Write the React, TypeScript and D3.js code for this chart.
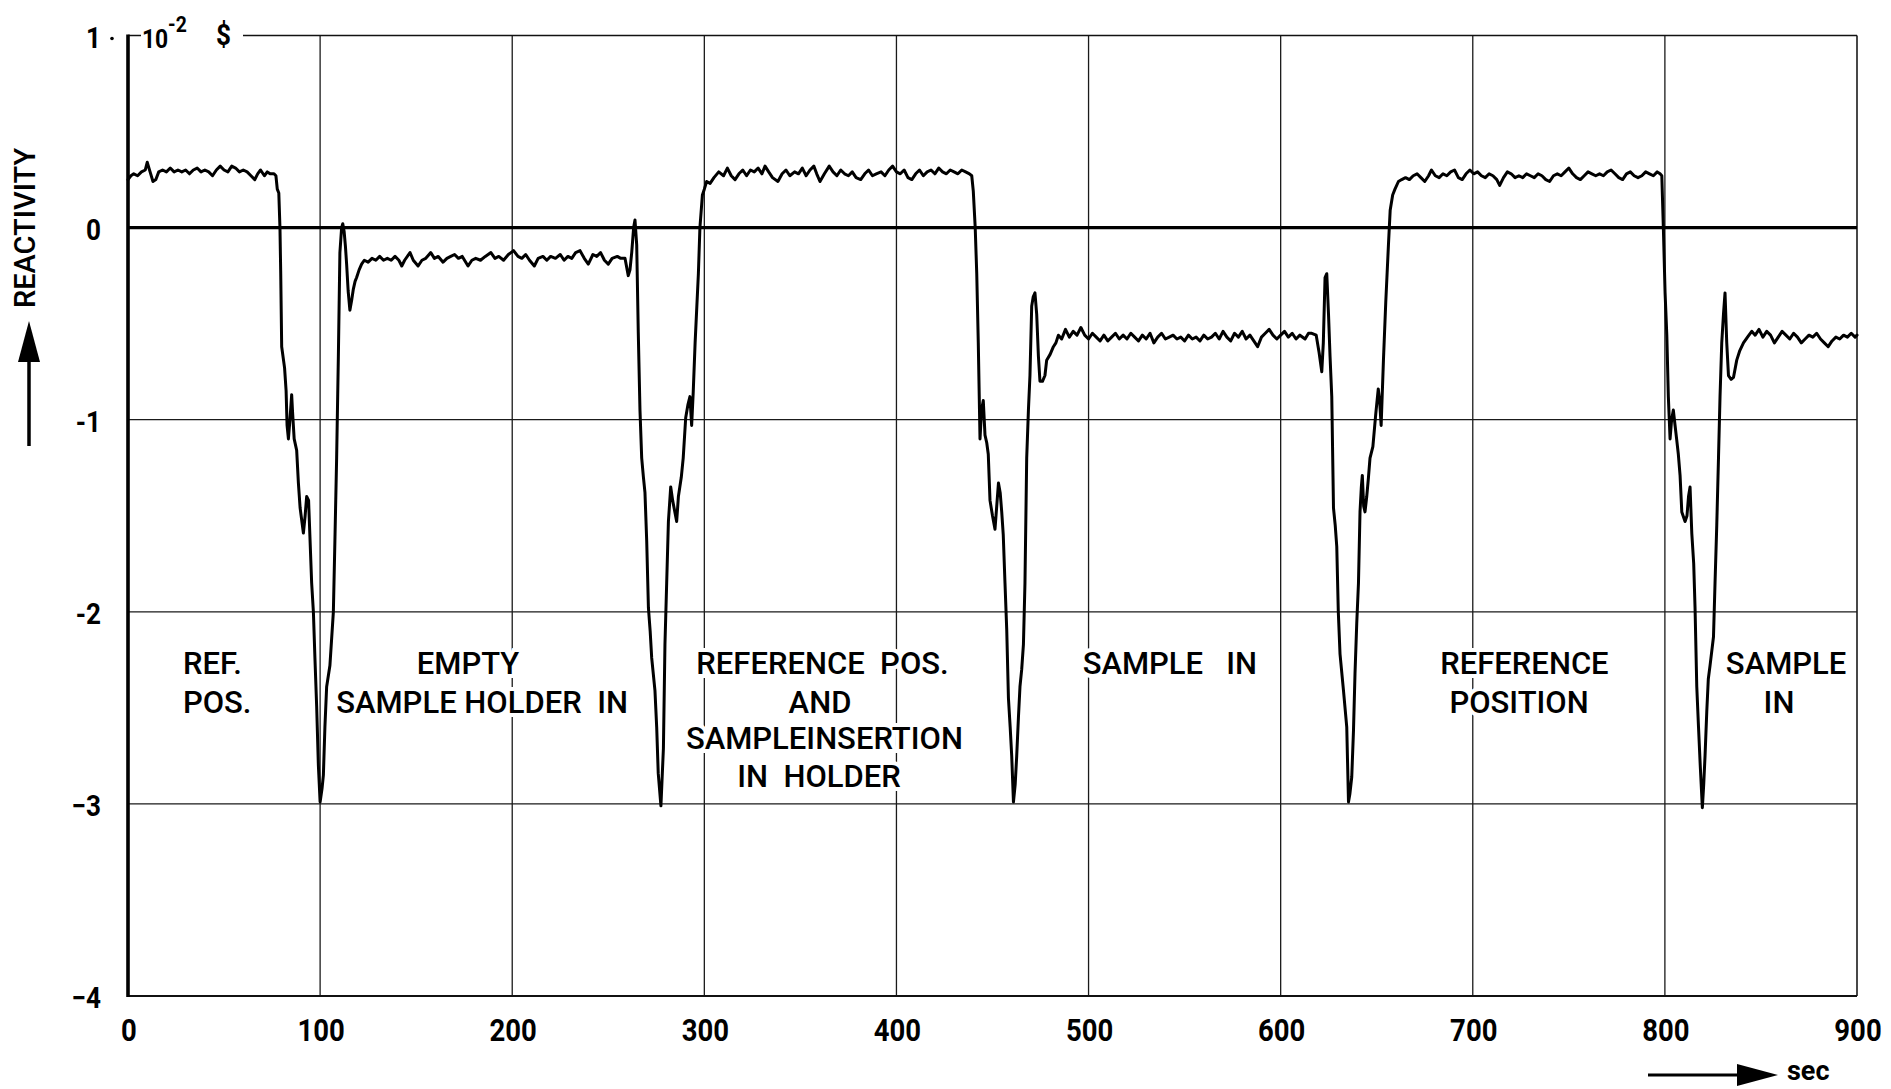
import React from 'react';
import * as d3 from 'd3';

type P = [number, number];

// ---- Data (time in sec, reactivity in 10^-2 $) ----
const refPos1: P[] = [
  [0, 0.25], [1.5, 0.27], [3, 0.28], [5, 0.27], [7, 0.29], [9, 0.3], [10, 0.34], [11.5, 0.29], [13, 0.24],
  [14.5, 0.25], [16, 0.29], [18, 0.3], [20, 0.29], [22, 0.31], [24, 0.29], [26, 0.3], [28, 0.29], [30, 0.3],
  [32, 0.28], [34, 0.3], [36, 0.31], [38, 0.29], [40, 0.3], [42, 0.29], [44, 0.27], [46, 0.3], [48, 0.32],
  [50, 0.3], [52, 0.29], [54, 0.32], [56, 0.31], [58, 0.29], [60, 0.3], [62, 0.29], [64, 0.27], [66, 0.25],
  [67.5, 0.28], [69, 0.3], [71, 0.27], [72.5, 0.29], [74, 0.28], [76, 0.28], [77, 0.27],
];
const transition1: P[] = [
  [77.7, 0.2], [78.5, 0.18], [79.1, 0.0], [79.5, -0.24], [80, -0.62], [81.5, -0.73], [82.3, -0.85], [82.8, -1.03],
  [83.5, -1.1], [84.3, -1.0], [85.2, -0.87], [85.6, -0.95], [86.5, -1.1], [87.8, -1.16], [88.7, -1.33], [89.6, -1.46],
  [91.3, -1.59], [92.2, -1.5], [93, -1.4], [94, -1.42], [94.7, -1.61], [95.6, -1.85], [96.5, -2.0], [97.3, -2.24],
  [98.2, -2.49], [99.1, -2.8], [100, -2.99], [101, -2.92], [101.7, -2.85], [102.5, -2.6], [103.4, -2.39],
  [105.1, -2.28], [106.9, -2.0], [107.7, -1.63], [108.6, -1.2], [109.5, -0.67], [110.3, -0.13], [111.2, 0.0],
  [111.8, 0.02], [112.5, -0.02], [113.2, -0.1], [113.8, -0.19], [114.6, -0.33], [115.5, -0.43], [116.4, -0.38],
  [117.3, -0.32], [118.2, -0.28], [119, -0.26], [120.3, -0.22], [121.6, -0.19],
];
const emptyHolder: P[] = [
  [123, -0.17], [125, -0.18], [127, -0.16], [129, -0.17], [131, -0.15], [133, -0.17], [135, -0.16], [137, -0.17],
  [139, -0.15], [141, -0.17], [142.5, -0.2], [144, -0.17], [146.8, -0.13], [148.5, -0.17], [151, -0.2], [153, -0.17],
  [155, -0.16], [157.6, -0.13], [159.5, -0.16], [161.5, -0.15], [164, -0.18], [166, -0.16], [168, -0.15], [170, -0.14],
  [172, -0.16], [174, -0.15], [177, -0.2], [179, -0.17], [181, -0.16], [183.5, -0.17], [186, -0.15], [188.9, -0.13],
  [191, -0.16], [193, -0.15], [195.5, -0.17], [198, -0.14], [200.7, -0.12], [203, -0.15], [205, -0.16], [207, -0.14],
  [209, -0.17], [211.5, -0.2], [213.5, -0.16], [216, -0.15], [218, -0.17], [220, -0.15], [222.5, -0.16], [225, -0.14],
  [227, -0.17], [229, -0.15], [231, -0.16], [233, -0.13], [235.3, -0.12], [237.5, -0.16], [239.6, -0.19], [242, -0.14],
  [244, -0.15], [246, -0.13], [248, -0.17], [250, -0.19], [252, -0.16], [254.7, -0.15], [256.5, -0.16], [258.7, -0.16],
];
const transition2: P[] = [
  [260.4, -0.25], [261.3, -0.22], [262.2, -0.13], [263.2, 0.0], [263.9, 0.04], [264.8, -0.09], [265.6, -0.54],
  [266.5, -0.95], [267.4, -1.2], [268.3, -1.3], [269.1, -1.38], [270, -1.63], [270.9, -1.98], [271.8, -2.1],
  [272.6, -2.24], [274.3, -2.41], [275.2, -2.6], [276, -2.84], [277.4, -3.01], [278.7, -2.71], [279.5, -2.17],
  [280.4, -1.85], [281.3, -1.53], [282.5, -1.35], [283.5, -1.42], [285.6, -1.53], [286.5, -1.4], [288, -1.3],
  [289, -1.2], [290.3, -0.99], [291.5, -0.92], [292.5, -0.88], [293.4, -1.03], [294.2, -0.86], [295.2, -0.6],
  [296.9, -0.24], [297.7, 0.0], [299, 0.17], [300, 0.2], [301.2, 0.24],
];
const refPos2: P[] = [
  [303, 0.23], [305, 0.26], [307.5, 0.29], [310, 0.27], [312, 0.31], [314, 0.27], [316, 0.25], [318, 0.28],
  [320, 0.3], [322, 0.27], [324, 0.3], [326, 0.29], [328, 0.31], [330, 0.28], [331.6, 0.32], [333.5, 0.29],
  [335.5, 0.26], [338.3, 0.24], [340.5, 0.28], [342.5, 0.3], [344.5, 0.27], [347, 0.29], [349, 0.28], [351, 0.31],
  [353, 0.27], [355, 0.3], [357, 0.32], [358.5, 0.28], [360.2, 0.24], [362.5, 0.28], [365, 0.32], [367, 0.29],
  [369, 0.27], [371, 0.3], [373, 0.28], [375, 0.27], [377, 0.29], [379, 0.26], [381.4, 0.25], [383.5, 0.28],
  [385.5, 0.3], [387.5, 0.27], [389.5, 0.28], [392, 0.29], [394, 0.27], [396, 0.3], [398, 0.32], [400, 0.29],
  [402, 0.28], [404, 0.3], [406, 0.26], [408, 0.25], [410, 0.28], [412, 0.3], [414, 0.27], [416, 0.29], [418, 0.3],
  [420, 0.28], [422, 0.31], [424, 0.29], [426, 0.28], [428, 0.3], [430, 0.29], [432, 0.28], [434, 0.3], [436, 0.29],
  [438, 0.28], [439.2, 0.27],
];
const transition3: P[] = [
  [440, 0.19], [441, 0.0], [441.8, -0.24], [442.6, -0.6], [443.5, -1.1], [444.3, -0.95], [445.2, -0.9],
  [446.1, -1.08], [447, -1.12], [447.8, -1.18], [448.7, -1.42], [450, -1.5], [451.3, -1.57], [452.2, -1.45],
  [453.1, -1.33], [454, -1.38], [454.8, -1.48], [455.6, -1.6], [456.5, -1.85], [457.4, -2.09], [458.3, -2.45],
  [459.2, -2.6], [460, -2.75], [460.9, -2.99], [461.8, -2.9], [462.6, -2.75], [463.5, -2.55], [464.3, -2.39],
  [465.2, -2.3], [466.1, -2.17], [466.9, -1.85], [467.8, -1.2], [468.7, -0.95], [469.5, -0.77], [470.4, -0.41],
  [471.2, -0.36], [472.1, -0.34], [473, -0.45], [473.9, -0.67], [474.7, -0.8], [476, -0.8], [477.3, -0.77],
  [478.2, -0.69], [480, -0.66], [481.7, -0.62], [483, -0.6], [484.3, -0.56], [486, -0.58],
];
const sampleIn1: P[] = [
  [488, -0.53], [490, -0.57], [492, -0.54], [494, -0.56], [496, -0.52], [498, -0.56], [500, -0.58], [502, -0.55],
  [504, -0.57], [506, -0.59], [508, -0.56], [510, -0.59], [512, -0.57], [514, -0.55], [516, -0.58], [518, -0.56],
  [520, -0.58], [522, -0.55], [524, -0.57], [526, -0.59], [528, -0.56], [530, -0.58], [532, -0.55], [534, -0.6],
  [536, -0.57], [538, -0.55], [540, -0.58], [542, -0.57], [544, -0.56], [546, -0.58], [548, -0.57], [550, -0.59],
  [552, -0.56], [554, -0.58], [556, -0.57], [558, -0.59], [560, -0.56], [562, -0.58], [564, -0.57], [566, -0.55],
  [568, -0.58], [570, -0.54], [572, -0.57], [574, -0.59], [576, -0.55], [578, -0.57], [580, -0.54], [582, -0.58],
  [584, -0.56], [586, -0.59], [588, -0.62], [590, -0.57], [592, -0.55], [594, -0.53], [596, -0.56], [598, -0.58],
  [600, -0.56], [602, -0.54], [604, -0.57], [606, -0.55], [608, -0.58], [610, -0.56], [612.7, -0.58], [614.5, -0.55],
  [616.2, -0.55], [618.5, -0.56],
];
const transition4: P[] = [
  [620, -0.65], [621.4, -0.75], [622.2, -0.6], [623.1, -0.26], [624, -0.24], [624.9, -0.45], [625.7, -0.67],
  [626.6, -0.88], [627.5, -1.46], [628.4, -1.55], [629.2, -1.66], [630, -2.0], [630.9, -2.22], [632.7, -2.41],
  [634.4, -2.6], [635.3, -2.99], [636, -2.95], [637, -2.86], [637.9, -2.62], [638.7, -2.32], [639.6, -2.06],
  [640.5, -1.85], [641.3, -1.48], [642, -1.35], [642.5, -1.29], [643.2, -1.45], [643.9, -1.48], [644.8, -1.4],
  [645.7, -1.3], [646.5, -1.2], [648, -1.14], [649.5, -0.97], [650.8, -0.84], [651.5, -0.9], [652.3, -1.03],
  [653.5, -0.69], [654.7, -0.39], [656.1, -0.09], [657, 0.09], [658.3, 0.17], [659.5, 0.2], [661.3, 0.24],
];
const refPos3: P[] = [
  [663, 0.25], [665, 0.26], [667, 0.25], [669, 0.27], [671, 0.28], [673, 0.26], [675, 0.24], [677, 0.27],
  [678.5, 0.3], [680.5, 0.27], [682.5, 0.26], [684.5, 0.28], [686.5, 0.27], [688.5, 0.29], [690.5, 0.3],
  [692.5, 0.26], [694.5, 0.25], [696.5, 0.28], [698.5, 0.3], [700.5, 0.28], [702.5, 0.29], [704.5, 0.27],
  [706.5, 0.26], [708.5, 0.28], [710.5, 0.27], [712.5, 0.25], [714, 0.22], [716, 0.26], [718, 0.29], [720, 0.28],
  [722, 0.26], [724, 0.27], [726, 0.26], [728, 0.28], [730, 0.27], [732, 0.26], [734, 0.28], [736, 0.27],
  [738, 0.25], [740, 0.24], [742, 0.27], [744, 0.28], [746, 0.27], [748, 0.29], [750, 0.31], [752, 0.28],
  [754, 0.26], [756, 0.25], [758, 0.27], [760, 0.29], [762, 0.28], [764, 0.27], [766, 0.28], [768, 0.27],
  [770, 0.29], [772, 0.3], [774, 0.28], [776, 0.26], [778, 0.25], [780, 0.28], [782, 0.29], [784, 0.27],
  [786, 0.26], [788, 0.27], [790, 0.29], [792, 0.28], [794, 0.27], [796, 0.29], [797.5, 0.28], [798.4, 0.27],
];
const transition5: P[] = [
  [799.2, 0.0], [800.1, -0.34], [801, -0.56], [801.8, -0.88], [802.7, -1.1], [803.5, -1.0], [804.4, -0.95],
  [805.3, -1.03], [806.1, -1.1], [807, -1.18], [807.9, -1.29], [808.8, -1.48], [810.5, -1.53], [811.5, -1.5],
  [812.3, -1.4], [813.1, -1.35], [814, -1.59], [815, -1.75], [815.7, -1.98], [816.6, -2.39], [817.5, -2.6],
  [818.4, -2.8], [819.5, -3.02], [820.2, -2.9], [820.9, -2.75], [821.8, -2.52], [822.6, -2.35], [823.5, -2.28],
  [825.3, -2.13], [826.1, -1.85], [827, -1.55], [827.9, -1.2], [828.7, -0.88], [829.6, -0.6], [830.5, -0.45],
  [831.3, -0.34], [832.2, -0.6], [833.1, -0.77], [834.5, -0.79], [835.7, -0.78], [837.4, -0.69], [839, -0.64],
  [840.9, -0.6], [843, -0.57], [845.2, -0.54],
];
const sampleIn2: P[] = [
  [847, -0.56], [849, -0.53], [851, -0.57], [853, -0.54], [855, -0.56], [857, -0.6], [859, -0.57], [861, -0.54],
  [863, -0.56], [865, -0.58], [867, -0.55], [869, -0.57], [871, -0.6], [873, -0.58], [875, -0.56], [877, -0.57],
  [879, -0.55], [881, -0.58], [883, -0.6], [885, -0.62], [887, -0.59], [889, -0.57], [891, -0.58], [893, -0.56],
  [895, -0.57], [897, -0.55], [899, -0.57], [900, -0.56],
];

const xTicks = [0, 100, 200, 300, 400, 500, 600, 700, 800, 900];
const yTicks = [1, 0, -1, -2, -3, -4];
const yTickLabels = ['1', '0', '-1', '-2', '\u22123', '\u22124'];

// annotation lines: text, time position, reactivity row, anchor
const annotations: { text: string; t: number; v: number; anchor: 'start' | 'middle' }[] = [
  { text: 'REF.', t: 28.6, v: -2.265, anchor: 'start' },
  { text: 'POS.', t: 28.6, v: -2.468, anchor: 'start' },
  { text: 'EMPTY', t: 177, v: -2.265, anchor: 'middle' },
  { text: 'SAMPLE HOLDER\u00a0\u00a0IN', t: 184.3, v: -2.468, anchor: 'middle' },
  { text: 'REFERENCE\u00a0\u00a0POS.', t: 361.5, v: -2.265, anchor: 'middle' },
  { text: 'AND', t: 360.2, v: -2.468, anchor: 'middle' },
  { text: 'SAMPLEINSERTION', t: 362.5, v: -2.655, anchor: 'middle' },
  { text: 'IN\u00a0\u00a0HOLDER', t: 359.7, v: -2.857, anchor: 'middle' },
  { text: 'SAMPLE\u00a0\u00a0\u00a0IN', t: 542.3, v: -2.265, anchor: 'middle' },
  { text: 'REFERENCE', t: 726.9, v: -2.265, anchor: 'middle' },
  { text: 'POSITION', t: 724.1, v: -2.468, anchor: 'middle' },
  { text: 'SAMPLE', t: 863.1, v: -2.265, anchor: 'middle' },
  { text: 'IN', t: 859.4, v: -2.468, anchor: 'middle' },
];

const W = 1891;
const H = 1089;

export default function App() {
  const x = d3.scaleLinear().domain([0, 900]).range([128, 1857]);
  const y = d3.scaleLinear().domain([-4, 1]).range([996, 35.5]);

  const series: P[] = [
    ...refPos1, ...transition1, ...emptyHolder, ...transition2, ...refPos2, ...transition3,
    ...sampleIn1, ...transition4, ...refPos3, ...transition5, ...sampleIn2,
  ];
  const line = d3.line<P>().x((d) => x(d[0])).y((d) => y(d[1]));

  const tickFont = "Roboto, 'DejaVu Sans', sans-serif";
  const labelFont = "Roboto, 'DejaVu Sans', sans-serif";

  return (
    <svg width={W} height={H} style={{ position: 'absolute', left: 0, top: 0 }}>
      <rect x={0} y={0} width={W} height={H} fill="#fff" />
      {/* vertical grid */}
      {xTicks.filter((t) => t > 0 && t < 900).map((t) => (
        <line key={'vx' + t} x1={x(t)} x2={x(t)} y1={y(1)} y2={y(-4)} stroke="#1a1a1a" strokeWidth={1.3} />
      ))}
      <line x1={x(900)} x2={x(900)} y1={y(1)} y2={y(-4)} stroke="#1a1a1a" strokeWidth={1.6} />
      {/* horizontal grid */}
      {[-1, -2, -3].map((v) => (
        <line key={'hy' + v} x1={x(0)} x2={x(900)} y1={y(v)} y2={y(v)} stroke="#1a1a1a" strokeWidth={1.3} />
      ))}
      <line x1={x(0)} x2={x(900)} y1={y(-4)} y2={y(-4)} stroke="#111" strokeWidth={2.2} />
      <line x1={x(0)} x2={x(900)} y1={y(0)} y2={y(0)} stroke="#000" strokeWidth={3.4} />
      {/* top border, interrupted by unit label */}
      <line x1={x(0)} x2={x(0) + 13} y1={y(1)} y2={y(1)} stroke="#111" strokeWidth={1.5} />
      <line x1={x(0) + 115} x2={x(900)} y1={y(1)} y2={y(1)} stroke="#111" strokeWidth={1.5} />

      {/* annotations */}
      {annotations.map((a, i) => (
        <text
          key={'an' + i}
          x={x(a.t)}
          y={y(a.v) + 11}
          textAnchor={a.anchor}
          fontFamily={labelFont}
          fontWeight={500}
          fontSize={31}
          fill="#000"
          stroke="#fff"
          strokeWidth={8}
          paintOrder="stroke"
          style={{ whiteSpace: 'pre' }}
        >
          {a.text}
        </text>
      ))}

      {/* trace */}
      <path d={line(series) || ''} fill="none" stroke="#000" strokeWidth={3} strokeLinejoin="round" strokeLinecap="round" />

      {/* y axis */}
      <line x1={x(0)} x2={x(0)} y1={y(1) - 1} y2={y(-4) + 1} stroke="#000" strokeWidth={3.6} />

      {/* y tick labels */}
      {yTicks.map((v, i) => (
        <text
          key={'yl' + v}
          transform={`translate(101, ${y(v) + 12}) scale(0.9, 1)`}
          textAnchor="end"
          fontFamily={tickFont}
          fontWeight={700}
          fontSize={29}
          fill="#000"
        >
          {yTickLabels[i]}
        </text>
      ))}
      <circle cx={112} cy={y(1) + 3} r={1.8} fill="#000" />
      <text transform={`translate(142, ${y(1) + 12}) scale(0.88, 1)`} fontFamily={tickFont} fontWeight={700} fontSize={26} fill="#000">10</text>
      <text transform={`translate(168, ${y(1) - 4}) scale(0.88, 1)`} fontFamily={tickFont} fontWeight={700} fontSize={22} fill="#000">-2</text>
      <text transform={`translate(216, ${y(1) + 9}) scale(0.9, 1)`} fontFamily={tickFont} fontWeight={700} fontSize={29} fill="#000">$</text>

      {/* x tick labels */}
      {xTicks.map((t) => (
        <text
          key={'xl' + t}
          transform={`translate(${x(t) + 1}, 1041) scale(0.86, 1)`}
          textAnchor="middle"
          fontFamily={tickFont}
          fontWeight={700}
          fontSize={32}
          fill="#000"
        >
          {t}
        </text>
      ))}

      {/* y axis title with arrow */}
      <text
        transform="translate(35, 228) rotate(-90)"
        textAnchor="middle"
        fontFamily={labelFont}
        fontWeight={500}
        fontSize={29}
        fill="#000"
      >
        REACTIVITY
      </text>
      <line x1={29} x2={29} y1={356} y2={446} stroke="#000" strokeWidth={3.5} />
      <polygon points="29,321 18,362 40,362" fill="#000" />

      {/* x axis title with arrow */}
      <line x1={1648} x2={1745} y1={1075} y2={1075} stroke="#000" strokeWidth={3} />
      <polygon points="1778,1075 1737,1064 1737,1086" fill="#000" />
      <text x={1787} y={1080} fontFamily={tickFont} fontWeight={700} fontSize={27} fill="#000">sec</text>
    </svg>
  );
}
